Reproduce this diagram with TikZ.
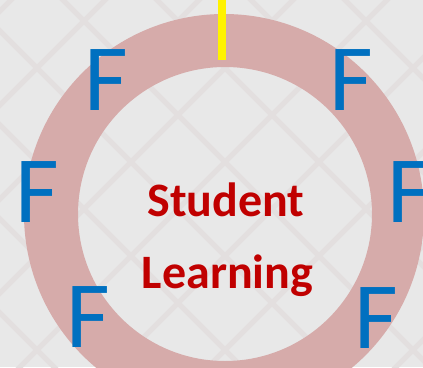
\documentclass[tikz,border=0pt]{standalone}
\usepackage{fontspec}
\setmainfont{Carlito}
\definecolor{bggray}{RGB}{232,232,232}
\definecolor{latticegray}{RGB}{227,223,223}
\definecolor{ringpink}{RGB}{214,171,170}
\definecolor{fblue}{RGB}{0,112,192}
\definecolor{learnred}{RGB}{192,0,0}
\tikzset{
  bigf/.style={anchor=base, inner sep=0pt, text=fblue, font=\fontsize{95}{95}\selectfont},
  centretext/.style={anchor=base, inner sep=0pt, text=learnred, font=\fontsize{48}{48}\selectfont\bfseries}
}
\begin{document}
\begin{tikzpicture}[x=1pt, y=-1pt]
        \useasboundingbox (0,0) rectangle (423,367);

        % Draw background and lattice
        \fill[bggray] (0,0) rectangle (423,367);
        \begin{scope}
          \clip (0,0) rectangle (423,367);
          \foreach \c in {-83,11,105,199,293,387,481,575,669,763} {
            \draw[latticegray, line width=5pt] (\c+400,-400) -- (\c-400,400);
          }
          \foreach \c in {-407,-313,-219,-125,-31,63,157,251,345,439} {
            \draw[latticegray, line width=5pt] (\c-400,-400) -- (\c+400,400);
          }
        \end{scope}

        % Draw ring
        \fill[ringpink, even odd rule] (224,214) circle (200) (225,214) circle (147);

        % Draw marker
        \coordinate (marktop) at (222,0);
        \coordinate (markbot) at (222,60);
        \draw[yellow, line width=8pt] (marktop) -- (markbot);

        % Draw letters
        \node[bigf] (fnw) at (106,110) {F};
        \node[bigf] (fne) at (351,110) {F};
        \node[bigf] (fw) at (37,222) {F};
        \node[bigf] (fe) at (409,222) {F};
        \node[bigf] (fsw) at (88,347) {F};
        \node[bigf] (fse) at (376,348) {F};

        % Draw centre text
        \node[centretext] (student) at (226,216) {Student};
        \node[centretext] (learning) at (227.5,288) {Learning};
\end{tikzpicture}
\end{document}
